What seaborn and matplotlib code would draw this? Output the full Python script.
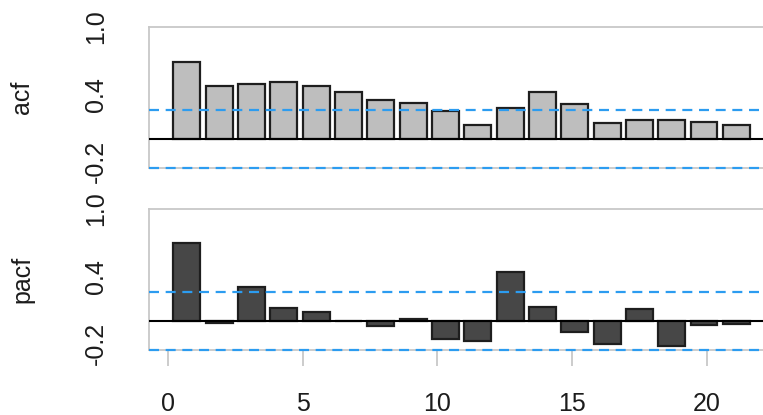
import numpy as np
import pandas as pd
import matplotlib
matplotlib.use("Agg")
import matplotlib.pyplot as plt
import seaborn as sns

# lags 1..18, drawn at R barplot positions (width 1, space 0.2)
lags = list(range(1, 19))
acf_vals = [0.69, 0.476, 0.494, 0.512, 0.476, 0.415, 0.344, 0.324, 0.247,
            0.124, 0.279, 0.415, 0.309, 0.141, 0.171, 0.171, 0.153, 0.124]
pacf_vals = [0.694, -0.021, 0.300, 0.114, 0.081, 0.002, -0.048, 0.018, -0.159,
             -0.180, 0.441, 0.123, -0.102, -0.210, 0.108, -0.225, -0.039, -0.024]
ci = 0.26
ytick_vals = [-0.2, 0.0, 0.2, 0.4, 0.6, 0.8, 1.0]
ytick_labels = ["-0.2", "", "", "0.4", "", "", "1.0"]
xtick_vals = [0, 5, 10, 15, 20]

df = pd.DataFrame({"lag": lags, "acf": acf_vals, "pacf": pacf_vals})
df["pos"] = 0.7 + 1.2 * (df["lag"] - 1)

sns.set_style("white")
plt.rcParams["font.family"] = ["Liberation Sans", "DejaVu Sans"]

W, H = 763, 415
fig = plt.figure(figsize=(W / 100, H / 100), dpi=100)

spine_col = "#c8c8c8"
txt_col = "#1c1c1c"
blue = "#2c9cf0"
fs = 18


def panel(top_px, bottom_px, col, fill, label, show_x):
    ax = fig.add_axes([149 / W, (H - bottom_px) / H, (W - 149) / W,
                       (bottom_px - top_px) / H])
    sns.barplot(data=df, x="pos", y=col, native_scale=True, width=1 / 1.2,
                color=fill, saturation=1, edgecolor="#1e1e1e", linewidth=1.6,
                errorbar=None, ax=ax)
    ax.axhline(0, color="black", lw=1.5, zorder=3)
    for v in (ci, -ci):
        ax.axhline(v, color=blue, lw=1.6, ls=(0, (4.5, 3)), zorder=4,
                   clip_on=False)
    ax.set_xlim(-0.705, 22.09)
    ax.set_ylim(-0.26, 1.0)
    ax.set_yticks(ytick_vals)
    ax.set_yticklabels(ytick_labels, rotation=90, va="center",
                       fontsize=fs, color=txt_col)
    ax.tick_params(axis="y", length=12.5, width=1.3, color=spine_col, pad=17)
    if show_x:
        ax.set_xticks(xtick_vals)
        ax.set_xticklabels([str(v) for v in xtick_vals], fontsize=fs,
                           color=txt_col)
        ax.tick_params(axis="x", length=11.5, width=1.3, color=spine_col,
                       pad=19, bottom=True)
    else:
        ax.set_xticks([])
    ax.set_xlabel("")
    ax.set_ylabel(label, fontsize=fs, color=txt_col, labelpad=36)
    for s in ("top", "left", "bottom"):
        ax.spines[s].set_visible(True)
        ax.spines[s].set_color(spine_col)
        ax.spines[s].set_linewidth(1.3)
    ax.spines["right"].set_visible(False)
    return ax


panel(27, 168, "acf", "#bebebe", "acf", False)
panel(209, 350, "pacf", "#474747", "pacf", True)

fig.savefig("out.png", dpi=100)
